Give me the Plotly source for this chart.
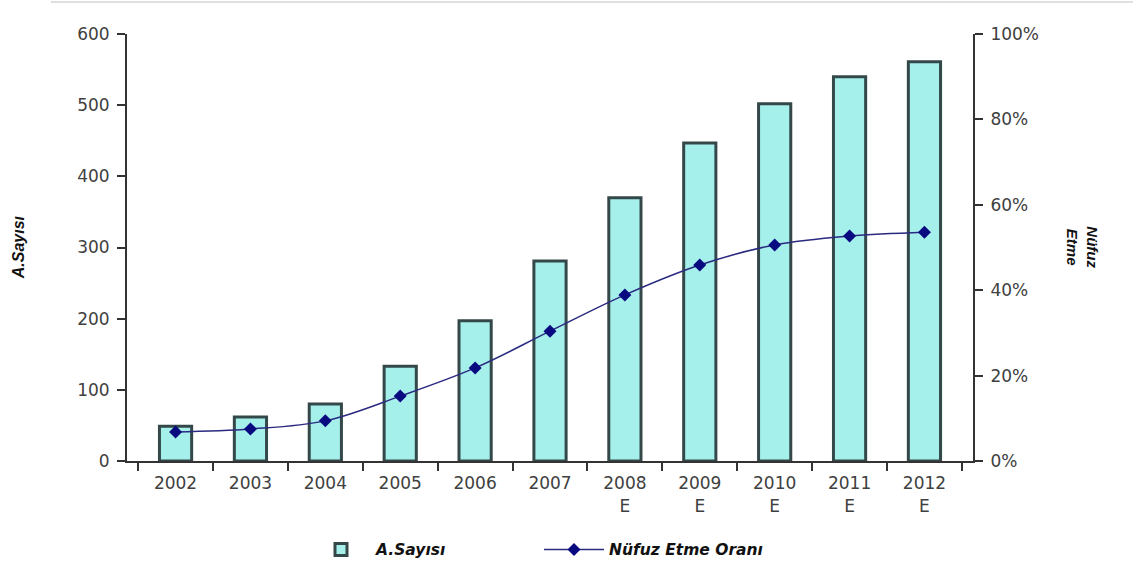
import plotly.graph_objects as go

years = ["2002", "2003", "2004", "2005", "2006", "2007", "2008<br>E", "2009<br>E", "2010<br>E", "2011<br>E", "2012<br>E"]
a_sayisi = [49, 62, 80, 133, 197, 281, 370, 447, 502, 540, 561]
nufuz_orani = [0.068, 0.075, 0.094, 0.152, 0.218, 0.304, 0.389, 0.459, 0.506, 0.527, 0.536]

fig = go.Figure()
fig.add_trace(go.Bar(
    x=years, y=a_sayisi, name="A.Sayısı", width=0.43,
    marker=dict(color="#a6f0ec", line=dict(color="#34484a", width=3)),
    yaxis="y",
))
fig.add_trace(go.Scatter(
    x=years, y=nufuz_orani, name="Nüfuz Etme Oranı", mode="lines+markers",
    line=dict(color="#2a2a80", width=1.5, shape="spline"),
    marker=dict(symbol="diamond", size=10, color="#0a0a80"),
    yaxis="y2",
))

tickfont = dict(family="DejaVu Sans, Verdana, sans-serif", size=17, color="#404040")
axcommon = dict(showline=True, linecolor="#333", linewidth=2, ticks="outside", ticklen=8,
                tickwidth=2, tickcolor="#333", tickfont=tickfont, showgrid=False, zeroline=False,
                automargin=False)
fig.update_layout(
    width=1133, height=574,
    margin=dict(l=127, r=160, t=34, b=113, autoexpand=False),
    plot_bgcolor="white", paper_bgcolor="white",
    showlegend=True,
    legend=dict(orientation="h", x=0.487, xanchor="center", y=-0.208, yanchor="middle",
                font=dict(family="DejaVu Sans, Verdana, sans-serif", size=15.5, color="#111",
                          weight="bold", style="italic"),
                itemwidth=60, entrywidth=158, tracegroupgap=0),
    xaxis=dict(type="category", tickson="boundaries", ticklabelstandoff=6, **axcommon),
    yaxis=dict(range=[0, 600], dtick=100, ticklabelstandoff=4, **axcommon),
    yaxis2=dict(range=[0, 1], dtick=0.2, tickformat=".0%", overlaying="y", side="right",
                ticklabelstandoff=4, **axcommon),
)
fig.add_annotation(text="A.Sayısı", xref="paper", yref="paper", x=-0.128, y=0.5,
                   xanchor="center", yanchor="middle", textangle=-90, showarrow=False,
                   font=dict(family="Liberation Sans Narrow, Arial Narrow, Liberation Sans, sans-serif",
                             size=16, color="#111", weight="bold", style="italic"))
fig.add_annotation(text="Nüfuz<br>Etme", xref="paper", yref="paper", x=1.129, y=0.5,
                   xanchor="center", yanchor="middle", textangle=90, showarrow=False,
                   font=dict(family="Liberation Sans Narrow, Arial Narrow, Liberation Sans, sans-serif",
                             size=15, color="#111", weight="bold", style="italic"))
fig.add_shape(type="line", xref="paper", yref="paper", x0=-0.09, x1=1.19, y0=1.075, y1=1.075,
              line=dict(color="#e0e0e0", width=2))
fig.write_html("out.html")
